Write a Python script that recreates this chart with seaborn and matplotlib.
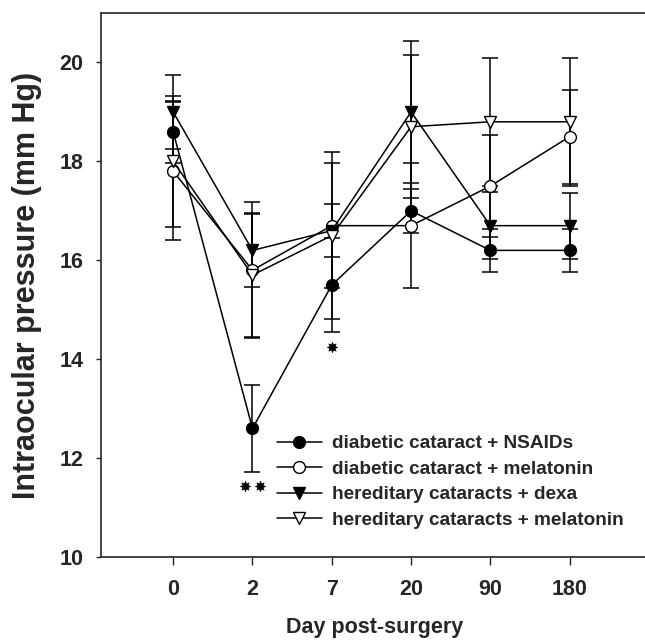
import numpy as np
import matplotlib
matplotlib.use("Agg")
import matplotlib.pyplot as plt
import seaborn as sns

# ----------- DATOS -----------
days = ["0", "2", "7", "20", "90", "180"]

nsaid_mean = [18.6, 12.6, 15.5, 17.0, 16.2, 16.2]
nsaid_err = [0.63, 0.88, 0.96, 0.45, 0.44, 0.44]

mel_diab_mean = [17.8, 15.8, 16.7, 16.7, 17.5, 18.5]
mel_diab_err = [1.40, 1.37, 1.26, 1.27, 1.03, 0.95]

dexa_mean = [19.0, 16.2, 16.6, 19.0, 16.7, 16.7]
dexa_err = [0.74, 0.74, 0.53, 1.43, 0.68, 0.67]

mel_her_mean = [18.0, 15.7, 16.5, 18.7, 18.8, 18.8]
mel_her_err = [1.32, 1.26, 1.69, 1.45, 1.30, 1.30]

labels = ["diabetic cataract + NSAIDs",
          "diabetic cataract + melatonin",
          "hereditary cataracts + dexa",
          "hereditary cataracts + melatonin"]

# marcas de significancia (posicion en el eje de dias, valor)
sig_pos = [0.9, 1.1, 2.0]
sig_val = [11.44, 11.44, 14.24]

# ----------- ESTILO -----------
sns.set_style("ticks")
plt.rcParams['font.family'] = ['Liberation Sans', 'DejaVu Sans']
plt.rcParams['font.weight'] = 'bold'

fig = plt.figure(figsize=(6.45, 6.43), dpi=100)
ax = fig.add_axes([101 / 645, 86 / 643, 548 / 645, 544 / 643])

x = np.arange(len(days))
series = [
    (nsaid_mean, nsaid_err, 'o', 'black'),
    (mel_diab_mean, mel_diab_err, 'o', 'white'),
    (dexa_mean, dexa_err, 'v', 'black'),
    (mel_her_mean, mel_her_err, 'v', 'white'),
]

for (m, e, mk, fc), lab in zip(series, labels):
    ax.errorbar(x, m, yerr=e, fmt='none', ecolor='black', elinewidth=1.1,
                capsize=6, capthick=1.1, zorder=2)
    sns.lineplot(x=x, y=m, ax=ax, color='black', linewidth=1.1, marker=mk,
                 markersize=8.5 if mk == 'o' else 9, markerfacecolor=fc,
                 markeredgecolor='black', markeredgewidth=1.0, label=lab,
                 zorder=3)

# asteriscos
ax.plot(sig_pos, sig_val, linestyle='none', marker=(8, 1, 0), markersize=7.5,
        color='black', markeredgewidth=0.5)

ax.set_xlim(-0.91, 6.0)
ax.set_ylim(10, 21)
ax.set_xticks(x)
ax.set_xticklabels(days)
ax.set_yticks([10, 12, 14, 16, 18, 20])
ax.tick_params(axis='x', length=5.5, width=1, pad=10, labelsize=15.5)
ax.tick_params(axis='y', length=3.5, width=1, pad=9, labelsize=15.5)
for t in ax.get_xticklabels() + ax.get_yticklabels():
    t.set_fontweight('bold')

for s in ax.spines.values():
    s.set_linewidth(1.2)
ax.spines['right'].set_visible(False)

ax.set_xlabel("Day post-surgery", fontsize=15.5, fontweight='bold')
ax.set_ylabel("Intraocular pressure (mm Hg)", fontsize=22, fontweight='bold')
ax.xaxis.set_label_coords(0.5, -0.11)
ax.yaxis.set_label_coords(-0.107, 0.5)

leg = ax.legend(loc='center left', bbox_to_anchor=(0.321, 0.138), frameon=False,
                fontsize=13.7, handlelength=2.35, handletextpad=0.53,
                labelspacing=0.43, borderpad=0, borderaxespad=0)
for t in leg.get_texts():
    t.set_fontweight('bold')

fig.savefig("out.png", dpi=100)
